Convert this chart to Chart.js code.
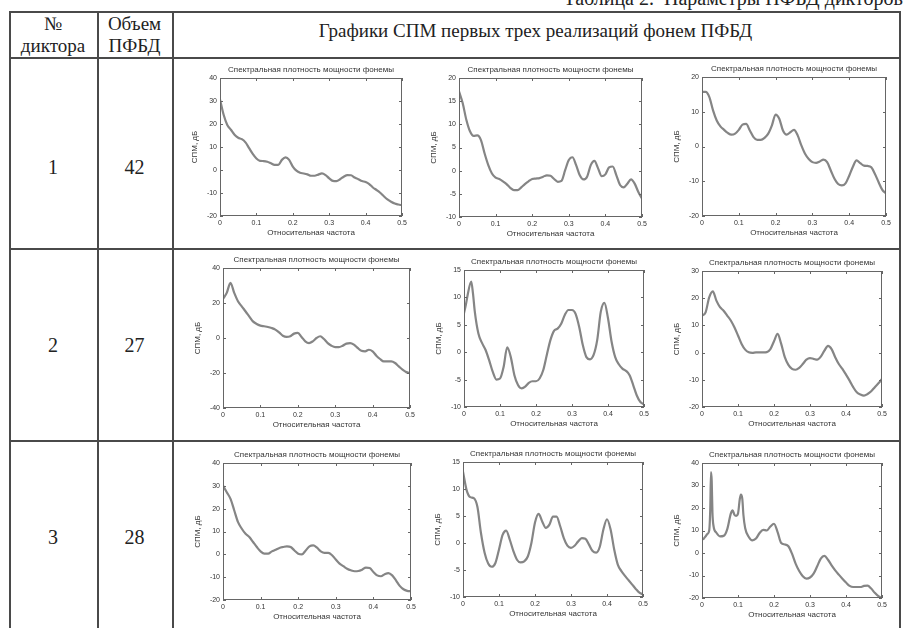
<!DOCTYPE html>
<html lang="ru">
<head>
<meta charset="utf-8">
<title>Параметры ПФБД дикторов</title>
<script src="https://cdn.jsdelivr.net/npm/chart.js@4.4.1/dist/chart.umd.min.js"></script>
<style>
  html, body { margin: 0; padding: 0; background: #fff; }
  body {
    width: 906px; height: 628px; position: relative; overflow: hidden;
    font-family: "Liberation Serif", "Times New Roman", serif; color: #222;
  }
  .hl, .vl { position: absolute; background: #4a4a4a; }
  .hl { height: 1.5px; }
  .vl { width: 1.5px; }
  .txt { position: absolute; white-space: nowrap; text-align: center; }
  canvas.spm { position: absolute; }
</style>
</head>
<body>

<div class="txt" style="right:3px; top:-13px; font-size:20px; line-height:22px;">Таблица 2.&nbsp; Параметры ПФБД дикторов</div>

<div class="txt" style="left:9px; width:88px; top:13px; font-size:19px; line-height:22px;">№<br>диктора</div>
<div class="txt" style="left:97px; width:75px; top:13px; font-size:19px; line-height:22px;">Объем<br>ПФБД</div>
<div class="txt" style="left:172px; width:727px; top:20px; font-size:19px; line-height:22px;">Графики СПМ первых трех реализаций фонем ПФБД</div>

<script>
//─── data: frequency grids and PSD values (dB) per speaker / realisation ───
const freqGrid = [0,0.01,0.02,0.03,0.04,0.05,0.06,0.07,0.08,0.09,0.1,0.11,0.12,0.13,0.14,0.15,0.16,0.17,0.18,0.19,0.2,
  0.21,0.22,0.23,0.24,0.25,0.26,0.27,0.28,0.29,0.3,0.31,0.32,0.33,0.34,0.35,0.36,0.37,0.38,0.39,0.4,
  0.41,0.42,0.43,0.44,0.45,0.46,0.47,0.48,0.49,0.5];

const freq_2_2 = [0,0.005,0.01,0.02,0.025,0.03,0.04,0.05,0.06,0.07,0.08,0.09,0.1,0.11,0.12,0.13,0.14,0.15,0.16,0.17,0.18,0.19,0.2,
  0.21,0.22,0.23,0.24,0.25,0.26,0.27,0.28,0.29,0.3,0.31,0.32,0.33,0.34,0.35,0.36,0.37,0.38,0.39,0.4,
  0.41,0.42,0.43,0.44,0.45,0.46,0.47,0.48,0.49,0.5];

const freq_3_3 = [0,0.005,0.01,0.015,0.02,0.023,0.025,0.027,0.029,0.032,0.04,0.05,0.06,0.07,0.08,0.085,0.09,0.095,0.1,
  0.105,0.108,0.112,0.115,0.12,0.13,0.14,0.15,0.16,0.17,0.18,0.19,0.2,
  0.21,0.22,0.23,0.24,0.25,0.26,0.27,0.28,0.29,0.3,0.31,0.32,0.33,0.34,0.35,0.36,0.37,0.38,0.39,0.4,
  0.41,0.42,0.43,0.44,0.45,0.46,0.47,0.48,0.49,0.5];

const spm_1_1 = [30.7,24,19.6,17.5,15.3,14,13.4,12,9.5,7,5,4,3.9,3.6,2.9,2.2,2.2,4.4,5.5,4.4,1.5,
  -0.3,-1.2,-1.5,-1.9,-2.5,-2.5,-2,-1.5,-2.2,-3.6,-4.7,-4.8,-4,-2.9,-2.2,-2.3,-3.3,-4,-4.8,-5.2,
  -6.1,-7.6,-8.7,-9.9,-11.4,-12.8,-13.8,-14.6,-15,-15.3];
const spm_1_2 = [17.1,14.6,11,8.5,7.5,7.6,6.6,3.7,1.2,-0.6,-1.5,-1.8,-2.3,-2.9,-3.7,-4.2,-4.2,-3.6,-2.9,-2.3,-1.8,
  -1.7,-1.6,-1.3,-1,-1.1,-1.8,-2.4,-2.2,0.1,2.3,2.9,1.2,-1,-1.9,-1.3,1.2,2.1,0.5,-1.2,-0.8,
  0.7,0.9,-1,-3.1,-3.6,-2.8,-1.9,-2.8,-4.6,-6];
const spm_1_3 = [15.7,15.7,14.2,10.4,7.5,5.8,4.8,3.9,3.4,3.7,4.8,6.3,6.5,4.6,2.7,1.9,1.9,2.5,3.7,6.1,9.2,
  8,4.6,3.4,4.1,4.8,3.2,0.3,-2.1,-3.6,-4.5,-4.7,-4.3,-3.8,-4.5,-6.9,-9.3,-10.8,-11.2,-10.6,-8.4,
  -5.8,-4,-4.8,-5.5,-5.6,-6,-7.9,-10.3,-12.5,-13.5];

const spm_2_1 = [22.3,25.8,31.5,25.8,21,18.1,15.3,12.4,9.5,8,7.1,6.7,6.3,5.7,4.8,3.2,1.3,0.6,1,2.5,2.9,
  0.6,-1.9,-2.9,-1.9,0,1,-0.6,-2.9,-4.4,-5.2,-5.2,-4.4,-3.2,-2.9,-3.8,-5.7,-7.3,-7.6,-6.7,-7.6,
  -10.1,-12,-13.4,-13.4,-13.4,-14.3,-16.2,-18.1,-19.5,-20];
const spm_2_2 = [7.1,8.6,10.4,12.9,10.7,7.4,3.4,1.7,0.4,-1.5,-3.6,-5,-4.8,-2.7,0.9,-0.9,-4.2,-6,-6.6,-6.3,-5.6,-5.3,-5.3,
  -4.8,-3.3,-0.5,2.2,3.9,4.3,5.2,6.8,7.7,7.7,7,4.6,1.3,-0.9,-1.3,-0.5,2.2,7.4,9,6.2,
  1.9,-0.9,-2.2,-3,-3.4,-4.2,-6,-7.9,-9.1,-9.5];
const spm_2_3 = [13.6,14.8,20.3,22.5,19.1,16.7,15.4,13.6,11.8,9.3,6.3,3.2,1.1,0.1,-0.1,0.1,0.1,0.1,0.2,1.3,4.2,
  6.9,3.2,-1.7,-4.5,-6,-6.3,-5.6,-4.2,-2.6,-2,-2.3,-2.6,-1.5,0.7,2.5,1.3,-1.7,-4.2,-6,-8.1,
  -10.3,-12.7,-14.6,-15.4,-15.8,-15.2,-14.2,-12.7,-11.3,-9.7];

const spm_3_1 = [30.1,27.2,24.3,19.2,14.1,11.2,9,7.6,5.4,3.2,1.3,0.3,0.3,1.3,2,2.8,3.2,3.5,3.2,1.7,0.3,
  0,1.7,3.5,3.9,2.9,1.3,0.6,0.6,-0.4,-2.3,-4.1,-5.2,-6.3,-7,-7.4,-7.3,-6.7,-5.8,-6,-7.7,
  -9.2,-9.6,-8.7,-8.2,-9.2,-11.4,-13.8,-15.3,-16,-16.2];
const spm_3_2 = [13.2,9.8,8.5,8.3,6.7,1.8,-1.8,-3.8,-4.4,-3.7,-1.2,1.5,2.3,0.6,-1.5,-3.1,-3.6,-3.4,-2.5,0,3.8,
  5.4,4,2.8,3.4,4.9,4.9,3.1,0.9,-0.5,-0.9,-0.5,0.3,0.9,0.8,-0.3,-1.5,-1.8,-0.7,2.5,4.4,
  2.5,-1.2,-4,-5.2,-6.1,-6.9,-7.7,-8.5,-9.2,-9.5];
const spm_3_3 = [5.9,6.4,7.4,8.5,10,20,36,32,18,12,9,7.4,7.6,10.5,17.5,19,17,16.5,17.5,
  24,26,24,17,11,7.1,5.6,6.4,8.9,10.3,10,11.8,13,
  9.3,4.4,3.8,3,-0.3,-4.7,-8,-10.3,-11.4,-10.9,-9.2,-5.9,-2.5,-1.3,-3,-5.5,-7.7,-9.6,-11.4,-13.1,
  -14.6,-15.1,-15.1,-15.1,-14.6,-14.5,-15.8,-17.7,-19.2,-20];

const speakers   = ['1', '2', '3'];
const phonemeVol = ['42', '27', '28'];

//─── layout ──────────────────────────────────────────────────────────────────
const COL_X = [9, 97, 172, 899];
const ROW_Y = [11, 57, 248, 440];
const ROW_MID = [167, 345, 537];

// plot area of every subplot: [left, top, right, bottom]
const plots = [
  { box:[220,78,402,216], f:freqGrid, s:spm_1_1, yMin:-20, yMax:40, yStep:10 },
  { box:[459,78,642,217], f:freqGrid, s:spm_1_2, yMin:-10, yMax:20, yStep:5 },
  { box:[702,77,886,216], f:freqGrid, s:spm_1_3, yMin:-20, yMax:20, yStep:10 },
  { box:[223,268,410,408], f:freqGrid, s:spm_2_1, yMin:-40, yMax:40, yStep:20 },
  { box:[464,270,644,407], f:freq_2_2, s:spm_2_2, yMin:-10, yMax:15, yStep:5 },
  { box:[702,271,882,407], f:freqGrid, s:spm_2_3, yMin:-20, yMax:30, yStep:10 },
  { box:[223,463,411,600], f:freqGrid, s:spm_3_1, yMin:-20, yMax:40, yStep:10 },
  { box:[463,462,643,597], f:freqGrid, s:spm_3_2, yMin:-10, yMax:15, yStep:5 },
  { box:[702,463,882,598], f:freq_3_3, s:spm_3_3, yMin:-20, yMax:40, yStep:10 }
];

const ML = 30, MR = 8, MT = 16, MB = 24;   // canvas margins around plot area
const SANS  = '"Liberation Sans", Arial, sans-serif';
const INK   = '#333';
const FRAME = '#666';
const CURVE = '#858585';
const TICK  = 3;

//─── table grid ──────────────────────────────────────────────────────────────
ROW_Y.forEach(y => {
  const d = document.createElement('div');
  d.className = 'hl';
  d.style.left = COL_X[0] + 'px'; d.style.top = y + 'px';
  d.style.width = (COL_X[3] - COL_X[0] + 1.5) + 'px';
  document.body.appendChild(d);
});
COL_X.forEach(x => {
  const d = document.createElement('div');
  d.className = 'vl';
  d.style.left = x + 'px'; d.style.top = ROW_Y[0] + 'px';
  d.style.height = (640 - ROW_Y[0]) + 'px';
  document.body.appendChild(d);
});
speakers.forEach((s, i) => {
  [[s, 0], [phonemeVol[i], 1]].forEach(([t, c]) => {
    const d = document.createElement('div');
    d.className = 'txt';
    d.textContent = t;
    d.style.left = COL_X[c] + 'px';
    d.style.width = (COL_X[c + 1] - COL_X[c]) + 'px';
    d.style.top = (ROW_MID[i] - 11) + 'px';
    d.style.fontSize = '20px'; d.style.lineHeight = '22px';
    document.body.appendChild(d);
  });
});

//─── box + inward ticks on all four sides ───────────────────────────────────
const matlabBox = {
  id: 'matlabBox',
  afterDraw(chart) {
    const { ctx, chartArea: a, scales: { x, y } } = chart;
    ctx.save();
    ctx.strokeStyle = FRAME;
    ctx.lineWidth = 1;
    ctx.strokeRect(Math.round(a.left) + 0.5, Math.round(a.top) + 0.5,
                   Math.round(a.width) - 1, Math.round(a.height) - 1);
    ctx.beginPath();
    x.ticks.forEach(t => {
      const px = Math.round(x.getPixelForValue(t.value)) + 0.5;
      ctx.moveTo(px, a.bottom); ctx.lineTo(px, a.bottom - TICK);
      ctx.moveTo(px, a.top);    ctx.lineTo(px, a.top + TICK);
    });
    y.ticks.forEach(t => {
      const py = Math.round(y.getPixelForValue(t.value)) + 0.5;
      ctx.moveTo(a.left, py);  ctx.lineTo(a.left + TICK, py);
      ctx.moveTo(a.right, py); ctx.lineTo(a.right - TICK, py);
    });
    ctx.stroke();
    ctx.restore();
  }
};

//─── one subplot per canvas ─────────────────────────────────────────────────
function drawSpm(p) {
  const [l, t, r, b] = p.box;
  const w = r - l + ML + MR, h = b - t + MT + MB;
  const cv = document.createElement('canvas');
  cv.className = 'spm';
  cv.width = w; cv.height = h;
  cv.style.left = (l - ML) + 'px'; cv.style.top = (t - MT) + 'px';
  cv.style.width = w + 'px'; cv.style.height = h + 'px';
  document.body.appendChild(cv);

  new Chart(cv, {
    type: 'line',
    data: {
      datasets: [{
        data: p.f.map((f, i) => ({ x: f, y: p.s[i] })),
        borderColor: CURVE,
        borderWidth: 2.2,
        pointRadius: 0,
        cubicInterpolationMode: 'monotone',
        borderJoinStyle: 'round',
        borderCapStyle: 'round',
        fill: false
      }]
    },
    options: {
      responsive: false,
      animation: false,
      events: [],
      layout: { padding: { left: 0, top: 0, right: MR, bottom: 0 } },
      plugins: {
        legend: { display: false },
        tooltip: { enabled: false },
        title: {
          display: true,
          fullSize: false,
          text: 'Спектральная плотность мощности фонемы',
          color: INK,
          font: { family: SANS, size: 8, weight: 'normal', lineHeight: '9px' },
          padding: { top: 3, bottom: 4 }
        }
      },
      scales: {
        x: {
          type: 'linear', min: 0, max: 0.5,
          grid: { display: false, drawTicks: false },
          border: { display: false },
          ticks: { stepSize: 0.1, color: INK, font: { family: SANS, size: 7 }, padding: 3,
                   maxRotation: 0, autoSkip: false },
          title: { display: true, text: 'Относительная частота', color: INK,
                   font: { family: SANS, size: 8 }, padding: { top: 0, bottom: 2 } },
          afterFit: s => { s.height = MB; }
        },
        y: {
          type: 'linear', min: p.yMin, max: p.yMax,
          grid: { display: false, drawTicks: false },
          border: { display: false },
          ticks: { stepSize: p.yStep, color: INK, font: { family: SANS, size: 7 }, padding: 3 },
          title: { display: true, text: 'СПМ, дБ', color: INK,
                   font: { family: SANS, size: 8 }, padding: { top: 0, bottom: 0 } },
          afterFit: s => { s.width = ML; }
        }
      }
    },
    plugins: [matlabBox]
  });
}

plots.forEach(drawSpm);
</script>
</body>
</html>
